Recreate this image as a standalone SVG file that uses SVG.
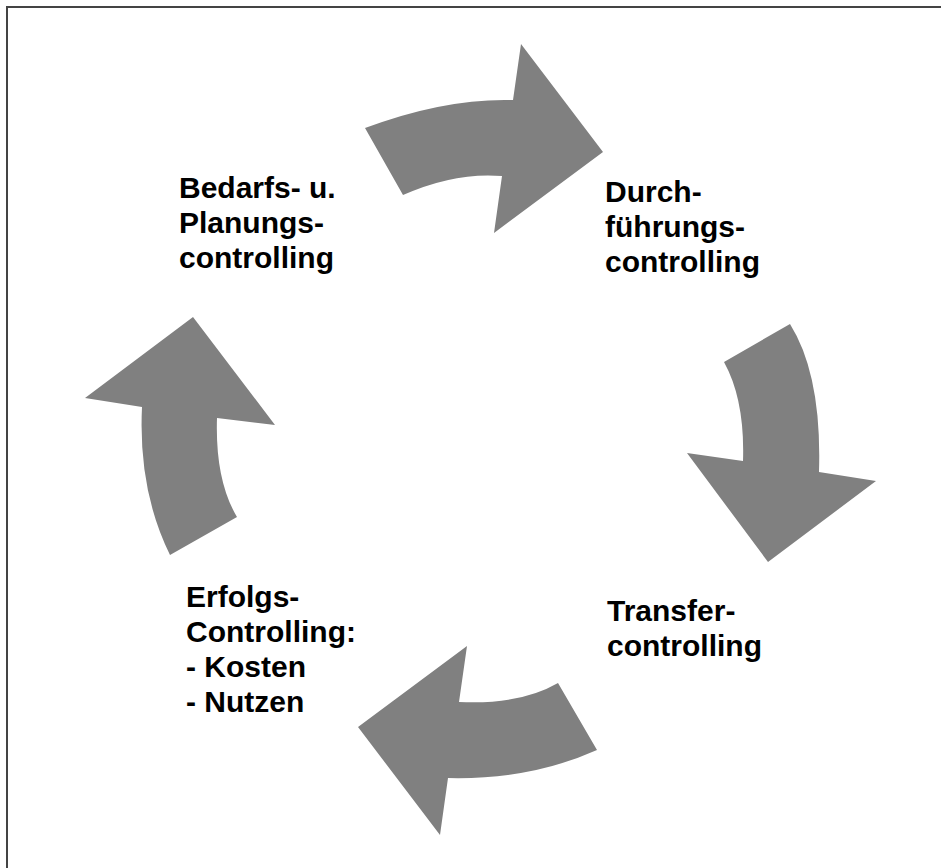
<svg xmlns="http://www.w3.org/2000/svg" width="941" height="868" viewBox="0 0 941 868">
<style>
.arr{fill:#808080;stroke:none}
.lbl{font-family:"Liberation Sans",Arial,sans-serif;font-weight:bold;font-size:30px;fill:#000}
.frame{stroke:#444;stroke-width:2;fill:none}
</style>
<rect width="941" height="868" fill="#fff"/>
<path class="frame" d="M7,868 L7,7 L941,7"/>
<g id="connectors">
<path id="arrow-top" class="arr" d="M365,128 Q445,98 513,100 L521,44 L603,152 L494,233 L502,176 Q455,172 403,195 Z"/>
<path id="arrow-right" class="arr" d="M724,362 L790,324 Q822,375 819,472 L876,481 L768,562 L687,453 L743,461 Q745,400 724,362 Z"/>
<path id="arrow-bottom" class="arr" d="M558,683 Q520,705 459,702 L467,646 L358,727 L440,835 L448,778 Q530,780 597,750 Z"/>
<path id="arrow-left" class="arr" d="M170,555 L237,517 Q215,480 217,418 L275,425 L193,317 L85,398 L142,407 Q138,490 170,555 Z"/>
</g>
<g id="node-planung">
<text class="lbl" x="179" y="198">Bedarfs- u.</text>
<text class="lbl" x="179" y="233">Planungs-</text>
<text class="lbl" x="179" y="268">controlling</text>
</g>
<g id="node-durchfuehrung">
<text class="lbl" x="605" y="202">Durch-</text>
<text class="lbl" x="605" y="237">führungs-</text>
<text class="lbl" x="605" y="272">controlling</text>
</g>
<g id="node-transfer">
<text class="lbl" x="607" y="621">Transfer-</text>
<text class="lbl" x="607" y="656">controlling</text>
</g>
<g id="node-erfolg">
<text class="lbl" x="186" y="607">Erfolgs-</text>
<text class="lbl" x="186" y="642">Controlling:</text>
<text class="lbl" x="186" y="677">- Kosten</text>
<text class="lbl" x="186" y="712">- Nutzen</text>
</g>
</svg>
